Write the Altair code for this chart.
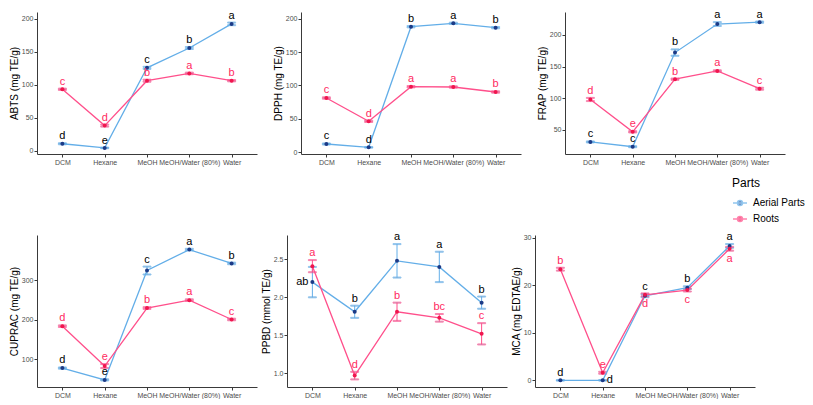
import altair as alt
import pandas as pd

solvents = ["DCM", "Hexane", "MeOH", "MeOH/Water (80%)", "Water"]
parts = ["Aerial Parts", "Roots"]

assays = ["ABTS", "DPPH", "FRAP", "CUPRAC", "PPBD", "MCA"]
y_titles = ["ABTS (mg TE/g)", "DPPH (mg TE/g)", "FRAP (mg TE/g)",
            "CUPRAC (mg TE/g)", "PPBD (mmol TE/g)", "MCA (mg EDTAE/g)"]

# ABTS
abts_aerial = [10.5, 4.2, 125.5, 155.5, 192.0]
abts_aerial_sd = [0.8, 0.5, 1.5, 1.5, 2.0]
abts_roots = [93.0, 38.0, 106.0, 117.0, 106.0]
abts_roots_sd = [1.0, 1.5, 1.5, 1.2, 1.0]
abts_aerial_letters = ["d", "e", "c", "b", "a"]
abts_roots_letters = ["c", "d", "b", "a", "b"]

# DPPH
dpph_aerial = [12.0, 7.0, 188.0, 193.0, 186.5]
dpph_aerial_sd = [0.8, 0.5, 1.0, 1.0, 1.0]
dpph_roots = [81.0, 46.0, 98.0, 97.5, 90.0]
dpph_roots_sd = [1.0, 1.0, 1.0, 1.0, 1.0]
dpph_aerial_letters = ["c", "d", "b", "a", "b"]
dpph_roots_letters = ["c", "d", "a", "a", "b"]

# FRAP
frap_aerial = [31.0, 23.5, 172.0, 217.0, 220.0]
frap_aerial_sd = [0.8, 0.8, 5.0, 3.0, 1.0]
frap_roots = [98.0, 47.0, 130.0, 143.0, 115.0]
frap_roots_sd = [2.5, 1.0, 1.0, 1.0, 1.5]
frap_aerial_letters = ["c", "c", "b", "a", "a"]
frap_roots_letters = ["d", "e", "b", "a", "c"]

# CUPRAC
cuprac_aerial = [78.0, 48.0, 325.0, 378.0, 343.0]
cuprac_aerial_sd = [1.5, 1.5, 10.0, 2.0, 2.0]
cuprac_roots = [184.0, 83.0, 230.0, 250.0, 201.0]
cuprac_roots_sd = [2.0, 5.0, 2.0, 2.0, 2.0]
cuprac_aerial_letters = ["d", "e", "c", "a", "b"]
cuprac_roots_letters = ["d", "e", "b", "a", "c"]

# PPBD
ppbd_aerial = [2.20, 1.81, 2.48, 2.40, 1.93]
ppbd_aerial_sd = [0.20, 0.08, 0.22, 0.20, 0.08]
ppbd_roots = [2.41, 0.97, 1.81, 1.73, 1.52]
ppbd_roots_sd = [0.08, 0.05, 0.12, 0.05, 0.14]
ppbd_aerial_letters = ["ab", "b", "a", "a", "b"]
ppbd_roots_letters = ["a", "d", "b", "bc", "c"]

# MCA
mca_aerial = [0.0, 0.0, 17.8, 19.5, 28.3]
mca_aerial_sd = [0.05, 0.05, 0.3, 0.3, 0.4]
mca_roots = [23.4, 1.6, 18.0, 19.0, 27.7]
mca_roots_sd = [0.3, 0.2, 0.3, 0.3, 0.4]
mca_aerial_letters = ["d", "d", "c", "b", "a"]
mca_roots_letters = ["b", "e", "d", "c", "a"]

series = {
    "ABTS": (abts_aerial, abts_aerial_sd, abts_aerial_letters, abts_roots, abts_roots_sd, abts_roots_letters),
    "DPPH": (dpph_aerial, dpph_aerial_sd, dpph_aerial_letters, dpph_roots, dpph_roots_sd, dpph_roots_letters),
    "FRAP": (frap_aerial, frap_aerial_sd, frap_aerial_letters, frap_roots, frap_roots_sd, frap_roots_letters),
    "CUPRAC": (cuprac_aerial, cuprac_aerial_sd, cuprac_aerial_letters, cuprac_roots, cuprac_roots_sd, cuprac_roots_letters),
    "PPBD": (ppbd_aerial, ppbd_aerial_sd, ppbd_aerial_letters, ppbd_roots, ppbd_roots_sd, ppbd_roots_letters),
    "MCA": (mca_aerial, mca_aerial_sd, mca_aerial_letters, mca_roots, mca_roots_sd, mca_roots_letters),
}

# label placement exceptions (default: above)
label_place = {
    ("PPBD", "Aerial Parts", "DCM"): "left",
    ("MCA", "Aerial Parts", "Hexane"): "right",
    ("MCA", "Roots", "MeOH"): "below",
    ("MCA", "Roots", "MeOH/Water (80%)"): "below",
    ("MCA", "Roots", "Water"): "below",
}

domains = {"ABTS": [-5, 210], "DPPH": [-3, 210], "FRAP": [12, 236],
           "CUPRAC": [30, 415], "PPBD": [0.82, 2.82], "MCA": [-1.4, 30.6]}
ticks = {"ABTS": [0, 50, 100, 150, 200], "DPPH": [0, 50, 100, 150, 200],
         "FRAP": [50, 100, 150, 200], "CUPRAC": [100, 200, 300],
         "PPBD": [1.0, 1.5, 2.0, 2.5], "MCA": [0, 10, 20, 30]}
fmts = {"ABTS": "d", "DPPH": "d", "FRAP": "d", "CUPRAC": "d", "PPBD": ".1f", "MCA": "d"}

rows = []
for a in assays:
    am, asd, al, rm, rsd, rl = series[a]
    for part, m, s, l in (("Aerial Parts", am, asd, al), ("Roots", rm, rsd, rl)):
        for i, sol in enumerate(solvents):
            place = label_place.get((a, part, sol), "above")
            if place == "above":
                ly = m[i] + s[i]
            elif place == "below":
                ly = m[i] - s[i]
            else:
                ly = m[i]
            rows.append({"Assay": a, "Parts": part, "Solvent": sol, "Mean": m[i],
                         "Lo": m[i] - s[i], "Hi": m[i] + s[i], "Letter": l[i],
                         "LabelY": ly, "Place": place})
df = pd.DataFrame(rows)

line_colors = ["#63aee8", "#ff4f8b"]
point_colors = ["#1c3a86", "#f0164e"]
text_colors = ["#000000", "#ff2a5f"]

legend_path = "M-1,0H1M-0.36,0A0.36,0.36 0 1,1 0.36,0A0.36,0.36 0 1,1 -0.36,0Z"


def make_legend():
    return alt.Legend(title="Parts", symbolType=legend_path, symbolSize=196, symbolStrokeWidth=1.4)


def panel(a, title, w, h):
    d = df[df.Assay == a]
    base = alt.Chart(d)
    x = alt.X("Solvent:N", sort=solvents,
              scale=alt.Scale(type="point", padding=0.6),
              axis=alt.Axis(title=None, labelAngle=0))
    ysc = alt.Scale(domain=domains[a], nice=False, zero=False)
    yax = alt.Axis(title=title, values=ticks[a], format=fmts[a], labelOverlap=False, tickCount=12)
    y = alt.Y("Mean:Q", scale=ysc, axis=yax)
    stroke = alt.Stroke("Parts:N", scale=alt.Scale(domain=parts, range=line_colors), legend=make_legend())
    fill = alt.Fill("Parts:N", scale=alt.Scale(domain=parts, range=point_colors), legend=make_legend())
    tcol = alt.Color("Parts:N", scale=alt.Scale(domain=parts, range=text_colors), legend=None)

    ylo = alt.Y("Lo:Q", scale=ysc, axis=yax)
    yhi = alt.Y("Hi:Q", scale=ysc, axis=yax)
    rule = base.mark_rule(strokeWidth=1).encode(x=x, y=ylo, y2="Hi:Q", stroke=stroke)
    cap_lo = base.mark_tick(size=8, thickness=1).encode(x=x, y=ylo, stroke=stroke)
    cap_hi = base.mark_tick(size=8, thickness=1).encode(x=x, y=yhi, stroke=stroke)
    line = base.mark_line(strokeWidth=1.3).encode(x=x, y=y, stroke=stroke, detail="Parts:N")
    pts = base.mark_point(filled=True, size=16, shape="circle", opacity=1).encode(x=x, y=y, fill=fill)

    tfont = dict(font="Liberation Sans", fontSize=11)
    ly = alt.Y("LabelY:Q", scale=ysc, axis=yax)
    t_above = base.transform_filter(alt.datum.Place == "above").mark_text(
        baseline="bottom", dy=-2, **tfont).encode(x=x, y=ly, text="Letter:N", color=tcol)
    t_below = base.transform_filter(alt.datum.Place == "below").mark_text(
        baseline="top", dy=2, **tfont).encode(x=x, y=ly, text="Letter:N", color=tcol)
    t_left = base.transform_filter(alt.datum.Place == "left").mark_text(
        align="right", baseline="middle", dx=-4, **tfont).encode(x=x, y=ly, text="Letter:N", color=tcol)
    t_right = base.transform_filter(alt.datum.Place == "right").mark_text(
        align="left", baseline="middle", dx=4, **tfont).encode(x=x, y=ly, text="Letter:N", color=tcol)

    return alt.layer(rule, cap_lo, cap_hi, line, pts, t_above, t_below, t_left, t_right).properties(
        width=w, height=h)


top = alt.hconcat(*[panel(a, t, 220, 142) for a, t in zip(assays[:3], y_titles[:3])], spacing=14)
bottom = alt.hconcat(*[panel(a, t, 220, 152) for a, t in zip(assays[3:], y_titles[3:])], spacing=2)

chart = alt.vconcat(top, bottom, spacing=64).properties(
    padding=0, background="white"
).configure_view(
    stroke="transparent"
).configure_axis(
    domainColor="#3a3a3a", domainWidth=1, tickColor="#3a3a3a", tickSize=3,
    labelColor="#4d4d4d", labelFontSize=7, labelFont="Liberation Sans", labelPadding=1,
    titleFontSize=10, titleFont="Liberation Sans", titleFontWeight="normal",
    titleColor="#000000", titlePadding=2, grid=False
).configure_legend(
    orient="none", legendX=695, legendY=166, padding=0,
    titleFont="Liberation Sans", titleFontSize=12, titleFontWeight="normal", titleColor="#000000",
    labelFont="Liberation Sans", labelFontSize=10, labelColor="#000000",
    rowPadding=2, titlePadding=5, labelOffset=5
)

chart.save("out.html", embed_options={"renderer": "svg", "actions": False})
